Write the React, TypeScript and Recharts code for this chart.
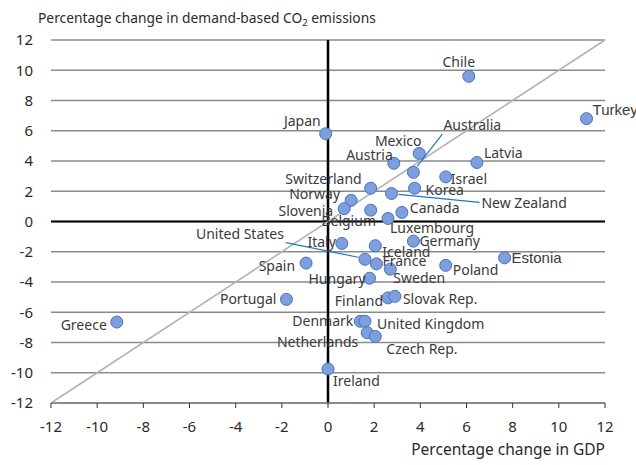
import React from "react";
import {
  ScatterChart,
  Scatter,
  XAxis,
  YAxis,
  CartesianGrid,
  ReferenceLine,
} from "recharts";

const countries = [
  "Chile", "Turkey", "Japan", "Mexico", "Austria", "Australia", "Latvia", "Israel",
  "Switzerland", "Korea", "New Zealand", "Norway", "Slovenia", "Belgium", "Canada",
  "Luxembourg", "Italy", "Iceland", "Germany", "United States", "France", "Sweden",
  "Poland", "Estonia", "Spain", "Hungary", "Portugal", "Finland", "Slovak Rep.",
  "Greece", "Denmark", "United Kingdom", "Netherlands", "Czech Rep.", "Ireland",
];

const gdpChange = [
  6.1, 11.2, -0.1, 3.95, 2.85, 3.7, 6.45, 5.1,
  1.85, 3.75, 2.75, 1.0, 0.7, 1.85, 3.2,
  2.6, 0.6, 2.05, 3.7, 1.6, 2.1, 2.7,
  5.1, 7.65, -0.95, 1.8, -1.8, 2.6, 2.9,
  -9.15, 1.4, 1.6, 1.7, 2.05, 0.0,
];

const co2Change = [
  9.6, 6.8, 5.8, 4.5, 3.85, 3.25, 3.9, 2.95,
  2.2, 2.2, 1.85, 1.4, 0.85, 0.75, 0.6,
  0.2, -1.45, -1.6, -1.3, -2.5, -2.8, -3.15,
  -2.9, -2.4, -2.75, -3.75, -5.15, -5.05, -4.95,
  -6.65, -6.6, -6.6, -7.35, -7.6, -9.75,
];

const axisTicks = [-12, -10, -8, -6, -4, -2, 0, 2, 4, 6, 8, 10, 12];

// Label placement (layout only): offset from the point centre in px
type LabelLayout = { dx: number; dy: number; anchor: "start" | "middle" | "end"; leader?: boolean; arial?: boolean };
const labelLayout: Record<string, LabelLayout> = {
  "Chile": { dx: -10, dy: -14, anchor: "middle" },
  "Turkey": { dx: 6, dy: -9, anchor: "start", arial: true },
  "Japan": { dx: -5, dy: -13, anchor: "end" },
  "Mexico": { dx: -21, dy: -12, anchor: "middle" },
  "Austria": { dx: -1, dy: -8, anchor: "end" },
  "Australia": { dx: 30, dy: -47, anchor: "start", leader: true },
  "Latvia": { dx: 7, dy: -9, anchor: "start" },
  "Israel": { dx: 5, dy: 2, anchor: "start" },
  "Switzerland": { dx: -9, dy: -9, anchor: "end" },
  "Korea": { dx: 11, dy: 2, anchor: "start" },
  "New Zealand": { dx: 90, dy: 10, anchor: "start", leader: true },
  "Norway": { dx: -11, dy: -6, anchor: "end" },
  "Slovenia": { dx: -11, dy: 2, anchor: "end" },
  "Belgium": { dx: -22, dy: 11, anchor: "middle" },
  "Canada": { dx: 8, dy: -4, anchor: "start" },
  "Luxembourg": { dx: 2, dy: 10, anchor: "start" },
  "Italy": { dx: -6, dy: -1, anchor: "end" },
  "Iceland": { dx: 7, dy: 6, anchor: "start" },
  "Germany": { dx: 6, dy: 0, anchor: "start" },
  "United States": { dx: -81, dy: -25, anchor: "end", leader: true },
  "France": { dx: 6, dy: -3, anchor: "start" },
  "Sweden": { dx: 3, dy: 9, anchor: "start" },
  "Poland": { dx: 7, dy: 5, anchor: "start" },
  "Estonia": { dx: 7, dy: 0, anchor: "start", arial: true },
  "Spain": { dx: -11, dy: 3, anchor: "end" },
  "Hungary": { dx: -4, dy: 1, anchor: "end" },
  "Portugal": { dx: -10, dy: 0, anchor: "end" },
  "Finland": { dx: -5, dy: 3, anchor: "end" },
  "Slovak Rep.": { dx: 8, dy: 3, anchor: "start" },
  "Greece": { dx: -10, dy: 3, anchor: "end" },
  "Denmark": { dx: -7, dy: 0, anchor: "end" },
  "United Kingdom": { dx: 12, dy: 3, anchor: "start" },
  "Netherlands": { dx: -9, dy: 9, anchor: "end" },
  "Czech Rep.": { dx: 11, dy: 13, anchor: "start" },
  "Ireland": { dx: 5, dy: 12, anchor: "start" },
};

const data = countries.map((name, i) => ({ name, x: gdpChange[i], y: co2Change[i] }));

const FONT = "'Noto Sans', sans-serif";

const PointShape = (props: any) => {
  const { cx, cy } = props;
  if (cx == null || cy == null) return null;
  return <circle cx={cx} cy={cy} r={6} fill="#7f9fdc" stroke="#4472c4" strokeWidth={1} />;
};

const LabelShape = (props: any) => {
  const { cx, cy, payload } = props;
  if (cx == null || cy == null || !payload) return null;
  const lay = labelLayout[payload.name] || { dx: 6, dy: 0, anchor: "start" };
  const tx = cx + lay.dx;
  const ty = cy + lay.dy;
  let leader = null;
  if (lay.leader) {
    const len = Math.hypot(lay.dx, lay.dy);
    const ux = lay.dx / len;
    const uy = lay.dy / len;
    const sx = cx + ux * 7;
    const sy = cy + uy * 7;
    const ex = tx - ux * 2;
    const ey = ty + (lay.dy < 0 ? 8 : -1) - uy * 1;
    leader = <line x1={sx} y1={sy} x2={ex} y2={ey} stroke="#1f77c4" strokeWidth={1.2} />;
  }
  return (
    <g>
      {leader}
      <text
        x={tx}
        y={ty}
        dy="0.35em"
        textAnchor={lay.anchor}
        fontFamily={lay.arial ? "'Liberation Sans', Arial, sans-serif" : FONT}
        fontSize={lay.arial ? 15 : 14}
        fill="#3a3a3a"
      >
        {payload.name}
      </text>
    </g>
  );
};

export default function App() {
  return (
    <div style={{ position: "absolute", left: 0, top: 0, width: 636, height: 465, background: "#fff", overflow: "hidden" }}>
      <ScatterChart
        width={636}
        height={465}
        margin={{ top: 40, right: 31, bottom: 0, left: 0 }}
        style={{ overflow: "visible" }}
      >
        <CartesianGrid vertical={false} stroke="#8a8a8a" strokeWidth={1.3} />
        <XAxis
          type="number"
          dataKey="x"
          domain={[-12, 12]}
          ticks={axisTicks}
          interval={0}
          height={62}
          tickSize={5}
          tickMargin={13}
          stroke="#808080"
          axisLine={{ stroke: "#808080", strokeWidth: 1.5 }}
          tickLine={{ stroke: "#333", strokeWidth: 1 }}
          tick={{ fill: "#2a2a2a", fontSize: 15, fontFamily: FONT }}
        />
        <YAxis
          type="number"
          dataKey="y"
          domain={[-12, 12]}
          ticks={axisTicks}
          interval={0}
          width={51}
          axisLine={false}
          tickLine={false}
          tickSize={0}
          tickMargin={18}
          tick={{ fill: "#2a2a2a", fontSize: 15, fontFamily: FONT }}
        />
        <ReferenceLine y={0} stroke="#000" strokeWidth={2} />
        <ReferenceLine x={0} stroke="#000" strokeWidth={2.5} />
        <ReferenceLine
          segment={[{ x: -12, y: -12 }, { x: 12, y: 12 }]}
          stroke="#b4b4b4"
          strokeWidth={1.6}
        />
        <Scatter data={data} shape={PointShape} isAnimationActive={false} />
        <Scatter data={data} shape={LabelShape} isAnimationActive={false} />
      </ScatterChart>
      <div
        style={{
          position: "absolute",
          left: 38,
          top: 7,
          fontFamily: FONT,
          fontSize: 13.8,
          color: "#2a2a2a",
          whiteSpace: "nowrap",
          lineHeight: "22px",
        }}
      >
        Percentage change in demand-based CO<sub style={{ fontSize: 9.5, verticalAlign: "-3px", lineHeight: 0 }}>2</sub> emissions
      </div>
      <div
        style={{
          position: "absolute",
          right: 31,
          top: 438,
          fontFamily: FONT,
          fontSize: 15.5,
          color: "#2a2a2a",
          whiteSpace: "nowrap",
          lineHeight: "22px",
        }}
      >
        Percentage change in GDP
      </div>
    </div>
  );
}
